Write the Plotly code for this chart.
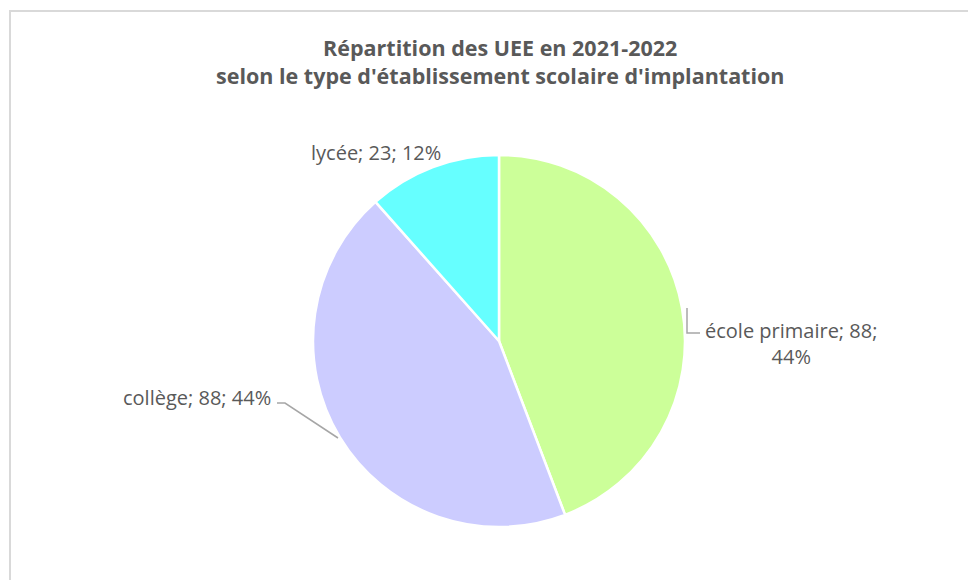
import plotly.graph_objects as go

W, H = 976, 580
OFF = 8  # page body margin in the browser window

categories = ["école primaire", "collège", "lycée"]
values = [88, 88, 23]
colors = ["#CCFF99", "#CCCCFF", "#66FFFF"]
title_lines = ["Répartition des UEE en 2021-2022",
               "selon le type d'établissement scolaire d'implantation"]

total = sum(values)
pcts = [round(v * 100 / total) for v in values]

def px(x):
    return (x - OFF) / W

def py(y):
    return 1 - (y - OFF) / H

cx, cy, r = 499, 341, 186

fig = go.Figure(go.Pie(
    labels=categories,
    values=values,
    sort=False,
    direction="clockwise",
    rotation=0,
    marker=dict(colors=colors, line=dict(color="white", width=2.5)),
    textinfo="none",
    hoverinfo="label+value+percent",
    showlegend=False,
    domain=dict(x=[px(cx - r), px(cx + r)], y=[py(cy + r), py(cy - r)]),
))

label_font = dict(family="Open Sans", size=20, color="#595959")
texts = [f"{c}; {v}; {p}%" for c, v, p in zip(categories, values, pcts)]

label_pos = {
    0: (791, 343, f"{categories[0]}; {values[0]};<br>{pcts[0]}%"),
    1: (197, 397, texts[1]),
    2: (376, 152, texts[2]),
}
annotations = []
for i, (x, y, t) in label_pos.items():
    annotations.append(dict(x=px(x), y=py(y), xref="paper", yref="paper",
                            text=t, showarrow=False, font=label_font,
                            xanchor="center", yanchor="middle", align="center"))

annotations.append(dict(
    x=px(500), y=py(62), xref="paper", yref="paper",
    text="<b>" + title_lines[0] + "</b><br><b>" + title_lines[1] + "</b>",
    showarrow=False, xanchor="center", yanchor="middle", align="center",
    font=dict(family="Open Sans", size=21.5, color="#595959")))

def path(points):
    return "M " + " L ".join(f"{px(x)} {py(y)}" for x, y in points)

shapes = [
    dict(type="path", xref="paper", yref="paper",
         path=path([(10, H + 20), (10, 11), (W + 20, 11)]),
         line=dict(color="#D9D9D9", width=2)),
    dict(type="path", xref="paper", yref="paper",
         path=path([(687, 308), (687, 333), (700, 333)]),
         line=dict(color="#A6A6A6", width=1.5)),
    dict(type="path", xref="paper", yref="paper",
         path=path([(277, 403), (285, 403), (338, 438)]),
         line=dict(color="#A6A6A6", width=1.5)),
]

fig.update_layout(
    width=W, height=H,
    margin=dict(l=0, r=0, t=0, b=0),
    paper_bgcolor="white",
    plot_bgcolor="white",
    annotations=annotations,
    shapes=shapes,
)

fig.write_html("out.html")
